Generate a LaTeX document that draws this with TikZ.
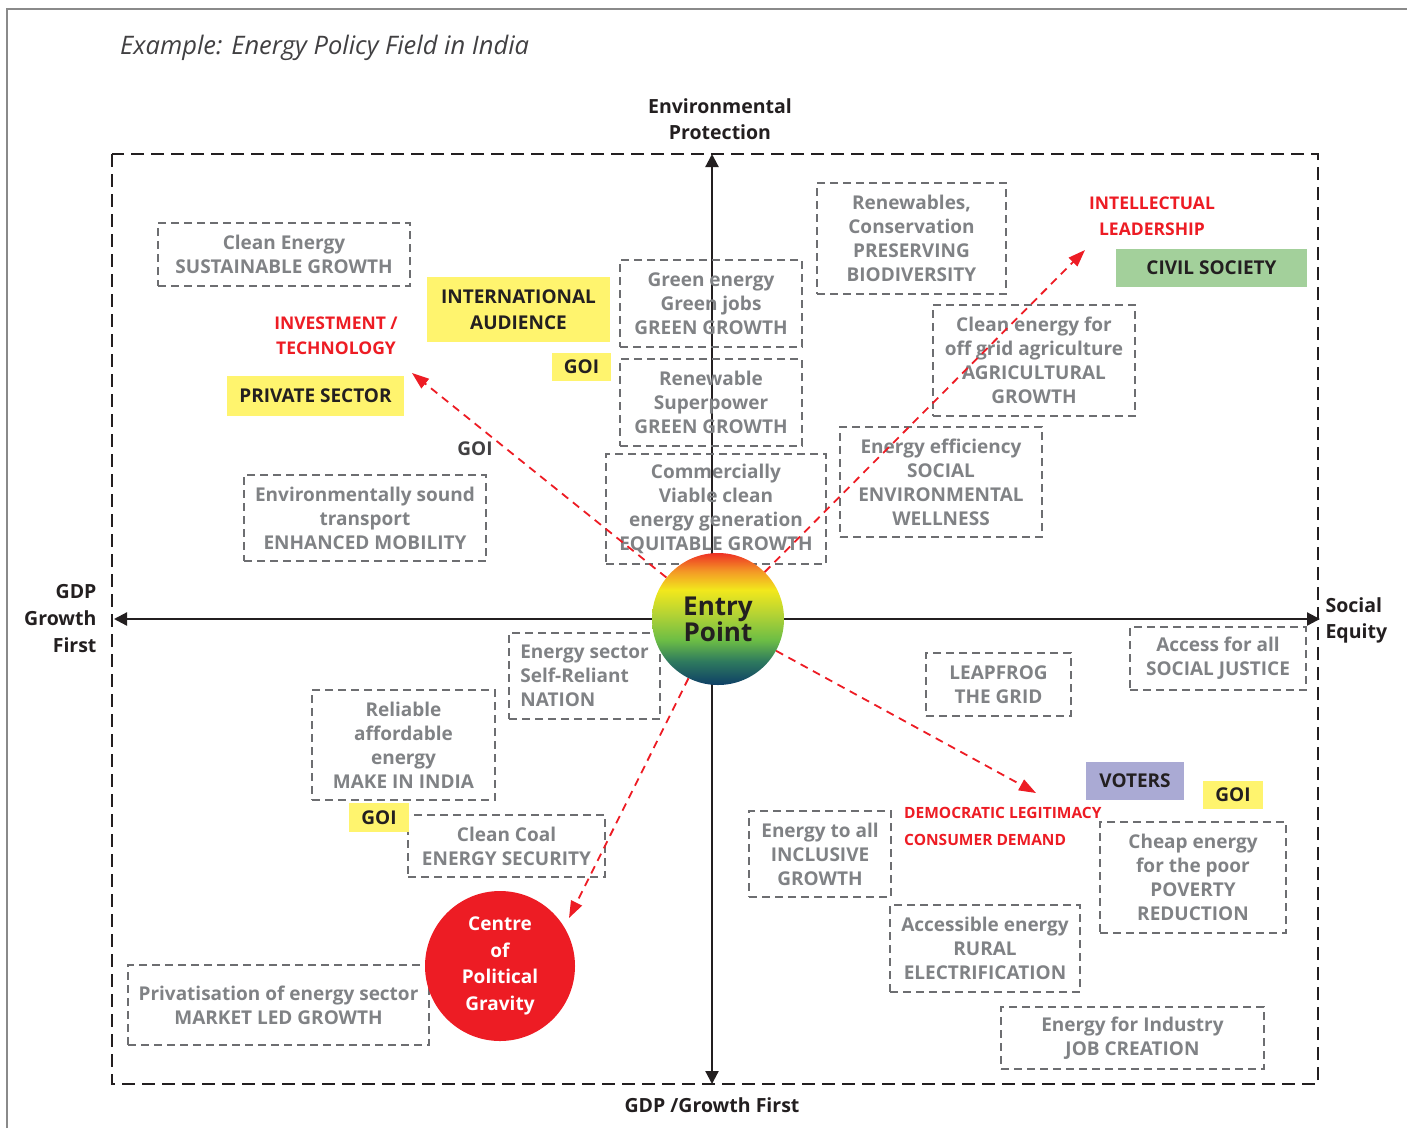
\documentclass[tikz,border=0pt]{standalone}
\usepackage{fontspec}
\setmainfont{Open Sans}
\usetikzlibrary{arrows.meta}
\definecolor{framegray}{HTML}{8A8A8A}
\definecolor{boxgray}{HTML}{6D6E71}
\definecolor{txtgray}{HTML}{808285}
\definecolor{darktxt}{HTML}{231F20}
\definecolor{goigray}{HTML}{414042}
\definecolor{redc}{HTML}{ED1C24}
\definecolor{yel}{HTML}{FFF46E}
\definecolor{grn}{HTML}{A3D09B}
\definecolor{lav}{HTML}{AAAAD4}
\definecolor{epblue}{HTML}{0E3F66}
\definecolor{epteal}{HTML}{2E7A5E}
\definecolor{epgreen}{HTML}{6CBD45}
\definecolor{eplime}{HTML}{B5D334}
\definecolor{epyellow}{HTML}{F2E81C}
\definecolor{eporange}{HTML}{F39A26}
\definecolor{epred}{HTML}{EE3124}
\pgfdeclareverticalshading{entryshade}{100bp}{color(0bp)=(epblue); color(25bp)=(epblue); color(34bp)=(epteal); color(42bp)=(epgreen); color(52bp)=(eplime); color(61bp)=(epyellow); color(68bp)=(eporange); color(75bp)=(epred); color(100bp)=(epred)}
\tikzset{
  gbox/.style={draw=boxgray, dash pattern=on 8pt off 5pt, line width=1.3pt, text=txtgray,
    font=\bfseries\fontsize{19}{24}\selectfont, align=center, inner sep=0pt},
  tag/.style={inner sep=0pt, text=darktxt, font=\bfseries\fontsize{19}{26}\selectfont, align=center},
  redlab/.style={text=redc, font=\bfseries\fontsize{17.5}{25}\selectfont, align=center},
  axlab/.style={text=darktxt, font=\bfseries\fontsize{19.5}{26}\selectfont},
  axisline/.style={draw=darktxt, line width=2.2pt, {Triangle[length=13pt,width=13pt]}-{Triangle[length=13pt,width=13pt]}},
  redarrow/.style={draw=redc, line width=1.8pt, dash pattern=on 8pt off 6pt, -{Triangle[length=17pt,width=12pt]}}
}
\begin{document}
\begin{tikzpicture}[x=1pt,y=-1pt]
\useasboundingbox (0,0) rectangle (1407,1128);
% frame
\draw[framegray, line width=1.2pt] (7,1128) -- (7,9) -- (1407,9);
% title
\node[anchor=west, inner sep=0pt, text=goigray, font=\itshape\fontsize{25.5}{28}\selectfont] (title) at (120,48) {Example: Energy Policy Field in India};
% outer field
\draw[darktxt, line width=2.2pt, dash pattern=on 13pt off 7pt] (112,154) rectangle (1318,1084);
% axes
\coordinate (axT) at (712,154);
\coordinate (axB) at (712,1084);
\coordinate (axL) at (114,619);
\coordinate (axR) at (1320,619);
\draw[axisline] (axB) -- (axT);
\draw[axisline] (axL) -- (axR);
% axis labels
\node[axlab, align=center] (envlab) at (720,119) {Environmental\\Protection};
\node[axlab] (gdpbot) at (712,1105) {GDP /Growth First};
\node[axlab, align=right, anchor=east, font=\bfseries\fontsize{19.5}{27}\selectfont] (gdpleft) at (100,619) {GDP\\Growth\\First};
\node[axlab, align=left, anchor=west] (social) at (1322,620) {Social\\Equity};
% gray boxes
\node[gbox, minimum width=252, minimum height=63] (b1) at (284,254.5) {Clean Energy\\SUSTAINABLE GROWTH};
\node[gbox, minimum width=182, minimum height=87] (b2) at (711,303.5) {Green energy\\Green jobs\\GREEN GROWTH};
\node[gbox, minimum width=189, minimum height=111] (b3) at (911.5,238.5) {Renewables,\\Conservation\\PRESERVING\\BIODIVERSITY};
\node[gbox, minimum width=182, minimum height=87] (b4) at (711,402.5) {Renewable\\Superpower\\GREEN GROWTH};
\node[gbox, minimum width=202, minimum height=111] (b5) at (1034,360.5) {Clean energy for\\off grid agriculture\\AGRICULTURAL\\GROWTH};
\node[gbox, minimum width=202, minimum height=110] (b6) at (941,482) {Energy efficiency\\SOCIAL\\ENVIRONMENTAL\\WELLNESS};
\node[gbox, minimum width=220, minimum height=110] (b7) at (716,509) {Commercially\\Viable clean\\energy generation\\EQUITABLE GROWTH};
\node[gbox, minimum width=242, minimum height=86] (b8) at (365,518) {Environmentally sound\\transport\\ENHANCED MOBILITY};
\node[gbox, align=left, minimum width=151, minimum height=86] (b9) at (584.5,676) {Energy sector\\Self-Reliant\\NATION};
\node[gbox, minimum width=183, minimum height=110] (b10) at (403.5,745) {Reliable\\affordable\\energy\\MAKE IN INDIA};
\node[gbox, minimum width=197, minimum height=62] (b11) at (506.5,846) {Clean Coal\\ENERGY SECURITY};
\node[gbox, minimum width=301, minimum height=80] (b12) at (278.5,1005) {Privatisation of energy sector\\MARKET LED GROWTH};
\node[gbox, minimum width=145, minimum height=63] (b13) at (998.5,684.5) {LEAPFROG\\THE GRID};
\node[gbox, minimum width=176, minimum height=63] (b14) at (1218,658.5) {Access for all\\SOCIAL JUSTICE};
\node[gbox, minimum width=142, minimum height=86] (b15) at (820,854) {Energy to all\\INCLUSIVE\\GROWTH};
\node[gbox, minimum width=186, minimum height=111] (b16) at (1193,877.5) {Cheap energy\\for the poor\\POVERTY\\REDUCTION};
\node[gbox, minimum width=190, minimum height=87] (b17) at (985,948.5) {Accessible energy\\RURAL\\ELECTRIFICATION};
\node[gbox, minimum width=263, minimum height=62] (b18) at (1132.5,1038) {Energy for Industry\\JOB CREATION};
% coloured tags
\node[tag, fill=yel, minimum width=183, minimum height=65] (intl) at (518.5,309.5) {INTERNATIONAL\\AUDIENCE};
\node[tag, fill=yel, minimum width=59, minimum height=28] (goi1) at (581.5,367) {GOI};
\node[tag, fill=yel, minimum width=177, minimum height=40] (priv) at (315.5,396) {PRIVATE SECTOR};
\node[tag, text=goigray] (goi2) at (475,449) {GOI};
\node[tag, fill=grn, minimum width=191, minimum height=38] (civil) at (1211.5,268) {CIVIL SOCIETY};
\node[tag, fill=lav, minimum width=98, minimum height=38] (voters) at (1135,781) {VOTERS};
\node[tag, fill=yel, minimum width=60, minimum height=28] (goi3) at (1233,795) {GOI};
\node[tag, fill=yel, minimum width=60, minimum height=29] (goi4) at (379,817.5) {GOI};
% red labels
\node[redlab] (inv) at (336,335.5) {INVESTMENT /\\TECHNOLOGY};
\node[redlab, font=\bfseries\fontsize{17.5}{26}\selectfont] (intel) at (1152,216) {INTELLECTUAL\\LEADERSHIP};
\node[redlab, align=left, anchor=west, inner sep=0pt, font=\bfseries\fontsize{15.5}{27}\selectfont] (dem) at (904,826.5) {DEMOCRATIC LEGITIMACY\\CONSUMER DEMAND};
% circles
\node[circle, minimum size=150, inner sep=0pt, fill=redc, text=white, align=center, font=\bfseries\fontsize{19}{26.5}\selectfont] (cpg) at (500,966) {Centre\\of\\Political\\Gravity};
\node[circle, minimum size=132, inner sep=0pt, shading=entryshade, align=center, text=darktxt, font=\bfseries\fontsize{26}{26}\selectfont] (ep) at (718,619) {Entry\\Point};
% red arrows
\coordinate (tipA) at (412,373);
\coordinate (tipB) at (1085,250);
\coordinate (tipC) at (1036,793);
\coordinate (tipD) at (569,918);
\draw[redarrow] (ep) -- (tipA);
\draw[redarrow] (ep) -- (tipB);
\draw[redarrow] (ep) -- (tipC);
\draw[redarrow] (ep) -- (tipD);
\end{tikzpicture}
\end{document}
